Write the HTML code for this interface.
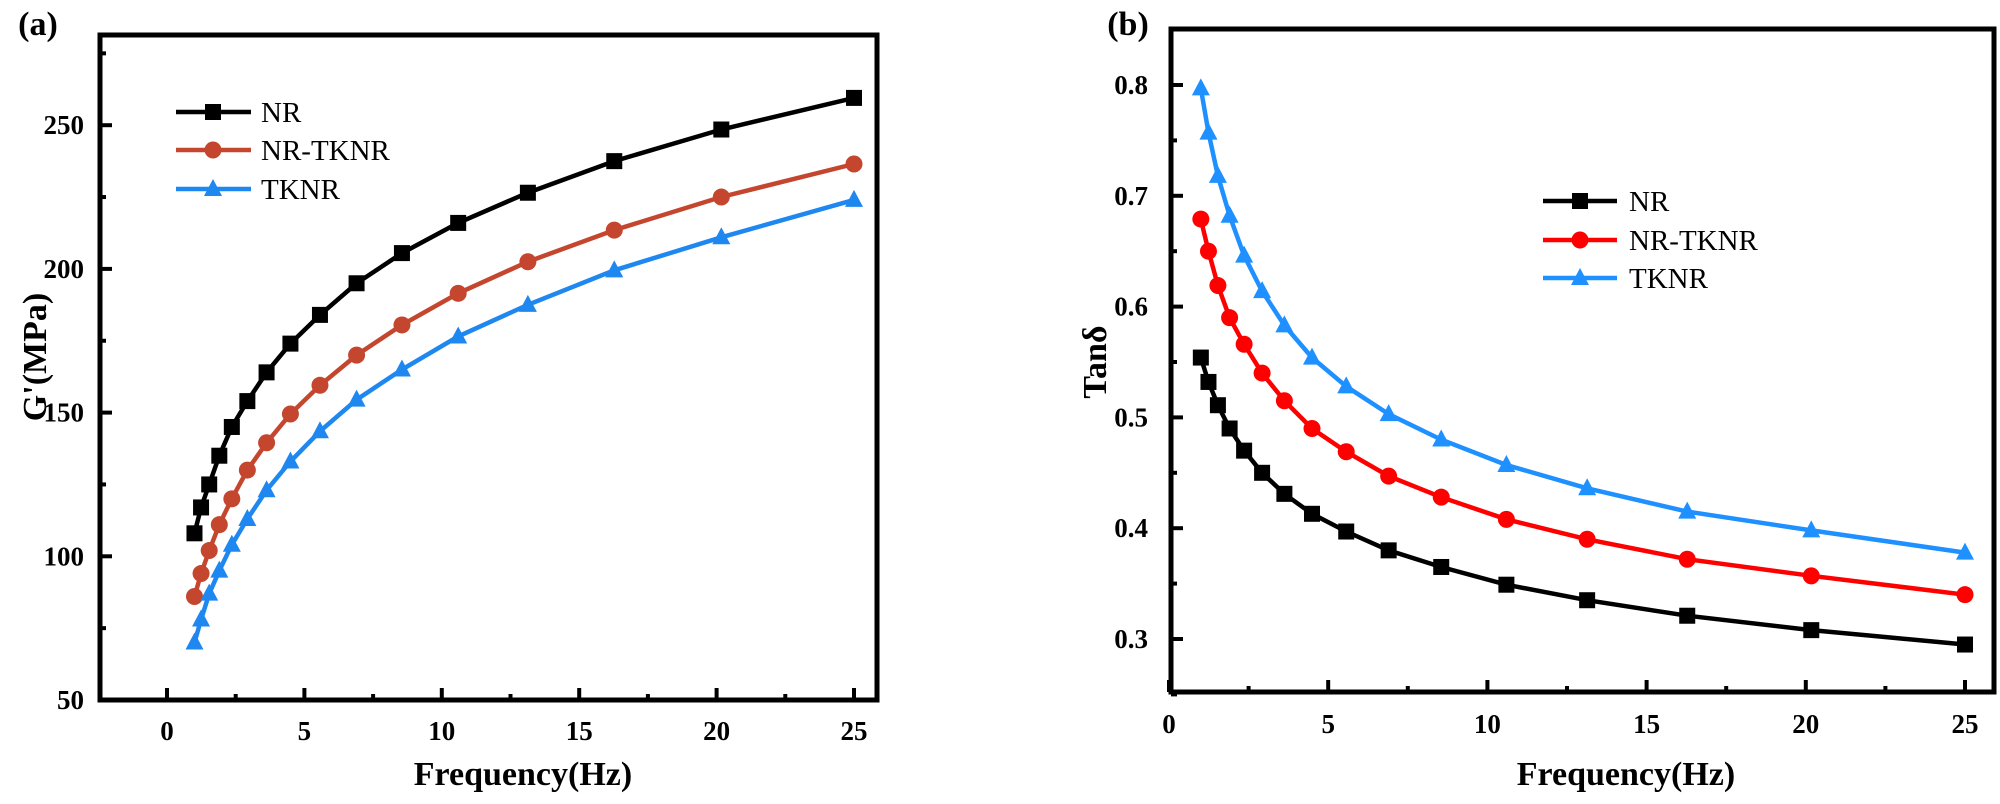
<!DOCTYPE html>
<html><head><meta charset="utf-8"><style>
html,body{margin:0;padding:0;background:#fff;}
svg{display:block;}
text{font-family:"Liberation Serif",serif;font-weight:bold;fill:#000;}
</style></head><body>
<svg id="s" width="2000" height="804" xmlns="http://www.w3.org/2000/svg"></svg>
<script>
const s=document.getElementById('s');
let h='';
const F=[];for(let i=0;i<16;i++)F.push(Math.pow(25,i/15));
function lx(f){return 167+f*27.48;} function ly(v){return 700-(v-50)*2.874;}
function rx(f){return 1169+f*31.84;} function ry(v){return 639-(v-0.3)*1108;}
function marker(t,x,y,c){
 if(t=='s')return `<rect x="${x-8}" y="${y-8}" width="16" height="16" fill="${c}"/>`;
 if(t=='c')return `<circle cx="${x}" cy="${y}" r="8.5" fill="${c}"/>`;
 return `<polygon points="${x},${y-10} ${x-9},${y+7} ${x+9},${y+7}" fill="${c}"/>`;
}
function series(X,Y,F,V,t,c){
 let p=F.map((f,i)=>X(f).toFixed(1)+','+Y(V[i]).toFixed(1)).join(' ');
 let o=`<polyline points="${p}" fill="none" stroke="${c}" stroke-width="4.5"/>`;
 F.forEach((f,i)=>o+=marker(t,X(f),Y(V[i]),c));return o;
}
// left frame
h+=`<rect x="100" y="35" width="777" height="665" fill="none" stroke="#000" stroke-width="5"/>`;
for(let f=0;f<=25;f+=2.5){let x=lx(f),L=(f%5==0)?12:6;h+=`<line x1="${x}" y1="700" x2="${x}" y2="${700-L}" stroke="#000" stroke-width="4"/>`;
 if(f%5==0)h+=`<text x="${x}" y="740" font-size="27" text-anchor="middle">${f}</text>`;}
for(let v=50;v<=275;v+=25){let y=ly(v),L=(v%50==0)?12:6;h+=`<line x1="100" y1="${y}" x2="${100+L}" y2="${y}" stroke="#000" stroke-width="4"/>`;
 if(v%50==0)h+=`<text x="84" y="${y+9}" font-size="27" text-anchor="end">${v}</text>`;}
h+=`<text x="38" y="35" font-size="34" text-anchor="middle">(a)</text>`;
h+=`<text x="523" y="785" font-size="34" text-anchor="middle">Frequency(Hz)</text>`;
h+=`<text transform="translate(46,357) rotate(-90)" font-size="34" text-anchor="middle">G'(MPa)</text>`;
const nr=[108,117,125,135,145,154,164,174,184,195,205.5,216,226.5,237.5,248.5,259.5];
const nt=[86,94,102,111,120,130,139.5,149.5,159.5,170,180.5,191.5,202.5,213.5,225,236.5];
const tk=[70,78,87,95,104,113,123,133,143.5,154.5,165,176.5,187.5,199.5,211,224];
h+=series(lx,ly,F,nr,'s','#000');h+=series(lx,ly,F,nt,'c','#c4462f');h+=series(lx,ly,F,tk,'t','#1e88f0');
[['NR','s','#000',112],['NR-TKNR','c','#c4462f',150],['TKNR','t','#1e88f0',189]].forEach(a=>{
 h+=`<line x1="176" y1="${a[3]}" x2="251" y2="${a[3]}" stroke="${a[2]}" stroke-width="4.5"/>`+marker(a[1],213,a[3],a[2]);
 h+=`<text x="261" y="${a[3]+10}" font-size="29" style="font-weight:normal">${a[0]}</text>`;});
// right frame
h+=`<rect x="1171" y="29" width="823" height="663" fill="none" stroke="#000" stroke-width="5"/>`;
for(let f=0;f<=25;f+=2.5){let x=rx(f),L=(f%5==0)?12:6;h+=`<line x1="${x}" y1="692" x2="${x}" y2="${692-L}" stroke="#000" stroke-width="4"/>`;
 if(f%5==0)h+=`<text x="${x}" y="733" font-size="27" text-anchor="middle">${f}</text>`;}
for(let k=0;k<=11;k++){let v=0.25+k*0.05,y=ry(v),maj=(k%2==1);let L=maj?12:6;if(y<30)continue;
 h+=`<line x1="1171" y1="${y}" x2="${1171+L}" y2="${y}" stroke="#000" stroke-width="4"/>`;
 if(maj)h+=`<text x="1148" y="${y+9}" font-size="27" text-anchor="end">${v.toFixed(1)}</text>`;}
h+=`<text x="1128" y="35" font-size="34" text-anchor="middle">(b)</text>`;
h+=`<text x="1626" y="785" font-size="34" text-anchor="middle">Frequency(Hz)</text>`;
h+=`<text transform="translate(1106,362) rotate(-90)" font-size="34" text-anchor="middle">Tanδ</text>`;
const r1=[0.554,0.532,0.511,0.490,0.470,0.450,0.431,0.413,0.397,0.380,0.365,0.349,0.335,0.321,0.308,0.295];
const r2=[0.679,0.650,0.619,0.590,0.566,0.540,0.515,0.490,0.469,0.447,0.428,0.408,0.390,0.372,0.357,0.340];
const r3=[0.797,0.757,0.718,0.682,0.646,0.614,0.583,0.554,0.528,0.503,0.480,0.457,0.436,0.415,0.398,0.378];
h+=series(rx,ry,F,r1,'s','#000');h+=series(rx,ry,F,r2,'c','#ff0000');h+=series(rx,ry,F,r3,'t','#1e90ff');
[['NR','s','#000',201],['NR-TKNR','c','#ff0000',240],['TKNR','t','#1e90ff',278]].forEach(a=>{
 h+=`<line x1="1543" y1="${a[3]}" x2="1617" y2="${a[3]}" stroke="${a[2]}" stroke-width="4.5"/>`+marker(a[1],1580,a[3],a[2]);
 h+=`<text x="1629" y="${a[3]+10}" font-size="29" style="font-weight:normal">${a[0]}</text>`;});
s.innerHTML=h;
</script>
</body></html>
